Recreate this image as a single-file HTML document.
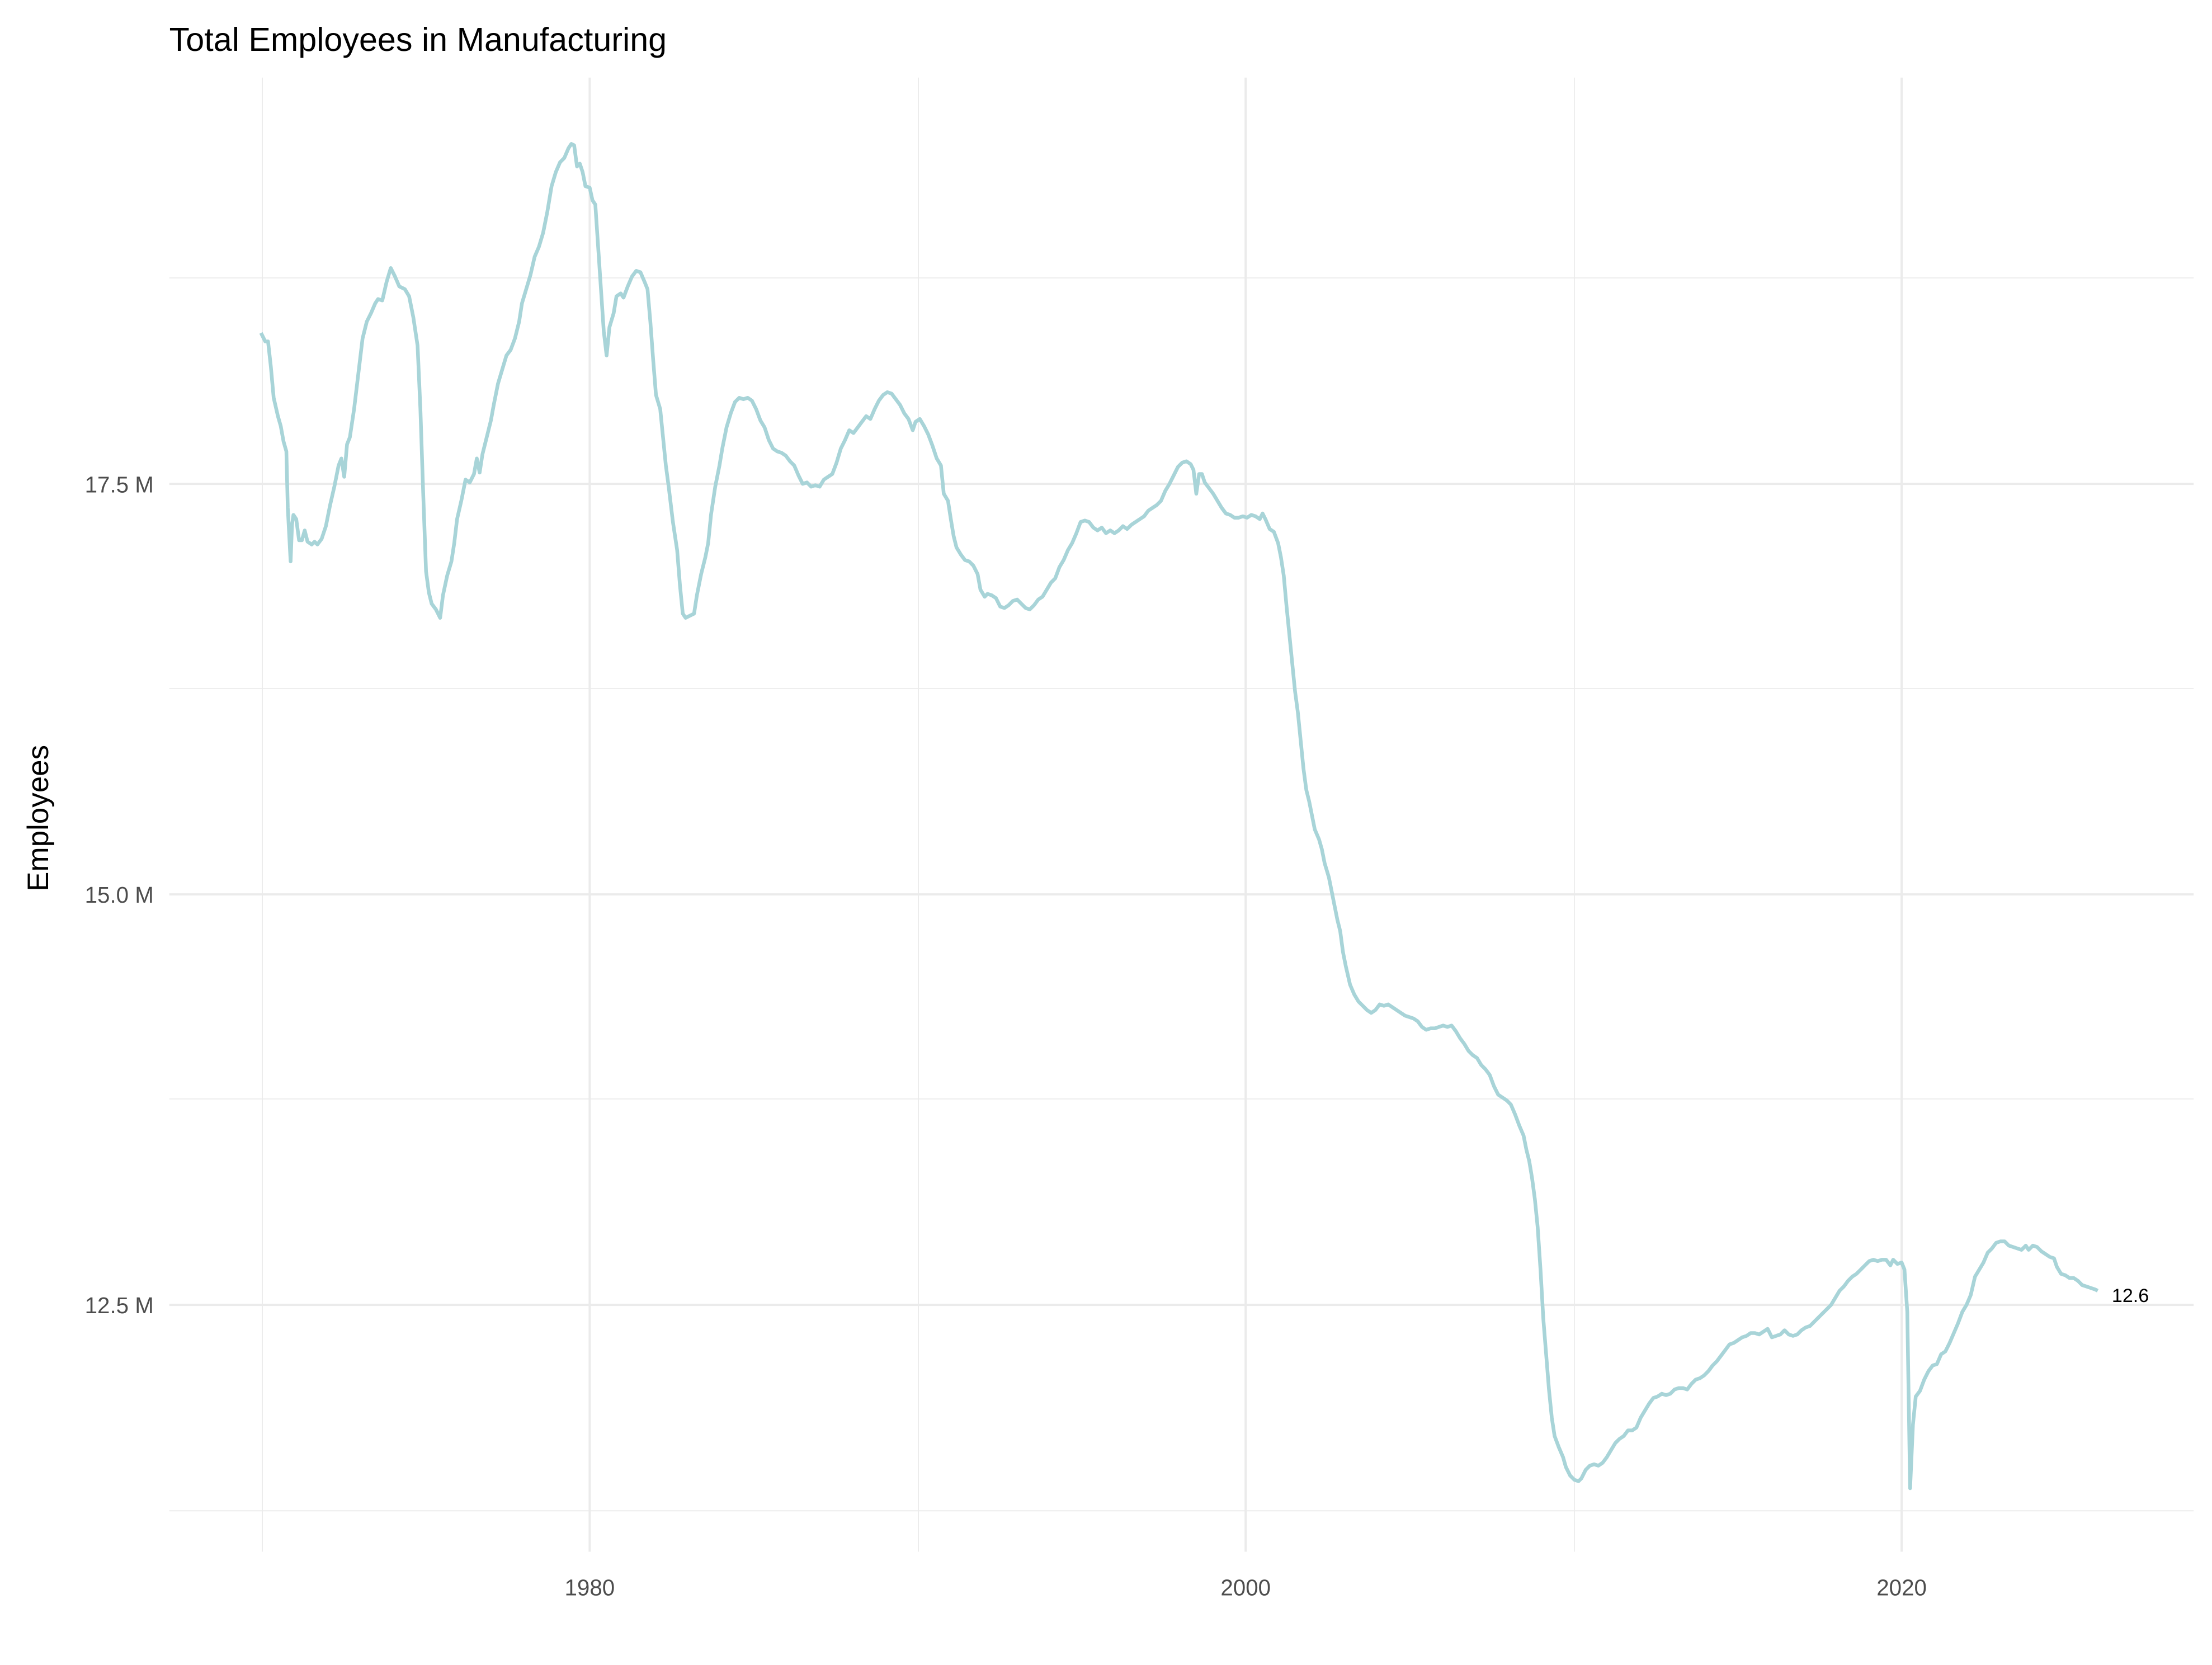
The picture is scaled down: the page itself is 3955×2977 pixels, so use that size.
<!DOCTYPE html>
<html><head><meta charset="utf-8"><style>
html,body{margin:0;padding:0;background:#fff;}
svg{display:block;}
text{font-family:"Liberation Sans",Arial,sans-serif;}
</style></head><body>
<svg width="3955" height="2977" viewBox="0 0 1568 1180.3" preserveAspectRatio="none" xmlns="http://www.w3.org/2000/svg">
<rect width="1568" height="1181" fill="#fff"/>
<g stroke="#ebebeb" stroke-width="0.7" fill="none">
<line x1="120" x2="1555" y1="197" y2="197"/>
<line x1="120" x2="1555" y1="488" y2="488"/>
<line x1="120" x2="1555" y1="779" y2="779"/>
<line x1="120" x2="1555" y1="1071" y2="1071"/>
<line x1="186" x2="186" y1="55" y2="1100"/>
<line x1="651" x2="651" y1="55" y2="1100"/>
<line x1="1116" x2="1116" y1="55" y2="1100"/>
</g>
<g stroke="#ebebeb" stroke-width="1.6" fill="none">
<line x1="120" x2="1555" y1="343" y2="343"/>
<line x1="120" x2="1555" y1="634" y2="634"/>
<line x1="120" x2="1555" y1="925" y2="925"/>
<line x1="418" x2="418" y1="55" y2="1100"/>
<line x1="883" x2="883" y1="55" y2="1100"/>
<line x1="1348" x2="1348" y1="55" y2="1100"/>
</g>
<polyline fill="none" stroke="#a8d4d8" stroke-width="2.6" stroke-linejoin="round" points="185,236 188,242 190,242 192,260 194,282 197,295 199,302 201,313 203,320 204,360 206,398 207,372 208,365 210,368 212,383 214,383 216,376 218,384 221,386 223,384 225,386 228,382 231,373 234,358 237,345 240,330 242,325 244,338 246,315 248,310 251,290 254,265 257,240 260,228 263,222 266,215 268,212 271,213 274,200 277,190 280,196 283,203 287,205 290,210 293,225 296,245 298,290 300,350 302,405 304,420 306,428 309,432 312,438 314,422 317,408 320,398 322,385 324,368 327,355 330,340 333,342 336,336 338,325 340,335 342,322 345,310 348,298 350,287 353,272 356,262 359,252 362,248 365,240 368,228 370,215 373,205 376,195 379,182 382,175 385,165 388,150 391,132 394,122 397,115 400,112 403,105 405,102 407,103 409,118 411,116 413,122 415,132 418,133 420,142 422,145 424,175 426,205 428,235 430,252 432,232 435,222 437,210 440,208 442,211 445,203 448,196 451,192 454,193 457,200 459,205 461,228 463,255 465,280 468,290 470,310 472,330 474,345 477,370 480,390 482,415 484,435 486,438 490,436 492,435 494,422 497,407 500,395 502,385 504,365 507,345 510,330 512,318 515,303 518,293 521,285 524,282 527,283 530,282 533,284 536,290 539,298 542,303 545,312 548,318 551,320 554,321 557,323 560,327 563,330 566,337 569,343 572,342 575,345 578,344 581,345 584,340 587,338 590,336 593,328 596,318 599,312 602,305 605,307 608,303 611,299 614,295 617,297 620,290 623,284 626,280 629,278 632,279 635,283 638,287 641,293 644,297 647,305 649,299 652,297 655,302 658,308 661,316 664,325 667,330 669,350 672,355 674,368 676,380 678,388 681,393 684,397 687,398 690,401 693,407 695,418 698,423 700,421 703,422 706,424 709,430 712,431 715,429 718,426 721,425 724,428 727,431 730,432 733,429 736,425 739,423 742,418 745,413 748,410 751,402 754,397 757,390 760,385 763,378 766,370 769,369 772,370 775,374 778,376 781,374 784,378 787,376 790,378 793,376 796,373 799,375 802,372 805,370 808,368 811,366 814,362 817,360 820,358 823,355 826,348 829,343 832,337 835,331 838,328 841,327 844,329 846,333 848,350 850,336 852,336 854,342 857,346 860,350 863,355 866,360 869,364 872,365 875,367 878,367 881,366 884,367 887,365 890,366 893,368 895,364 897,368 900,375 903,377 906,385 908,395 910,408 912,430 914,450 916,470 918,490 920,505 922,525 924,545 926,560 928,568 930,578 932,588 935,595 937,602 939,612 942,622 944,632 946,642 948,652 950,660 952,675 954,685 957,698 960,705 963,710 966,713 969,716 972,718 975,716 978,712 981,713 984,712 987,714 990,716 993,718 996,720 999,721 1002,722 1005,724 1008,728 1011,730 1014,729 1017,729 1020,728 1023,727 1026,728 1029,727 1032,731 1035,736 1038,740 1041,745 1044,748 1047,750 1050,755 1053,758 1056,762 1059,770 1062,776 1065,778 1068,780 1071,783 1074,790 1077,798 1080,805 1082,815 1084,823 1086,835 1088,850 1090,870 1092,900 1094,935 1096,960 1098,985 1100,1005 1102,1018 1105,1026 1108,1033 1110,1040 1113,1046 1116,1049 1119,1050 1121,1048 1124,1042 1127,1039 1130,1038 1133,1039 1136,1037 1139,1033 1142,1028 1145,1023 1148,1020 1151,1018 1154,1014 1157,1014 1160,1012 1163,1005 1166,1000 1169,995 1172,991 1175,990 1178,988 1181,989 1184,988 1187,985 1190,984 1193,984 1196,985 1199,981 1202,978 1205,977 1208,975 1211,972 1214,968 1217,965 1220,961 1223,957 1226,953 1229,952 1232,950 1235,948 1238,947 1241,945 1244,945 1247,946 1250,944 1253,942 1256,948 1259,947 1262,946 1265,943 1268,946 1271,947 1274,946 1277,943 1280,941 1283,940 1286,937 1289,934 1292,931 1295,928 1298,925 1301,920 1304,915 1307,912 1310,908 1313,905 1316,903 1319,900 1322,897 1325,894 1328,893 1331,894 1334,893 1337,893 1340,897 1342,893 1345,896 1348,895 1350,900 1352,930 1354,1055 1356,1010 1358,990 1361,986 1364,978 1367,972 1370,968 1373,967 1376,960 1379,958 1382,952 1385,945 1388,938 1391,930 1394,925 1397,918 1400,905 1403,900 1406,895 1409,888 1412,885 1415,881 1418,880 1421,880 1424,883 1427,884 1430,885 1433,886 1436,883 1438,886 1441,883 1444,884 1447,887 1450,889 1453,891 1456,892 1458,898 1461,903 1464,904 1467,906 1470,906 1473,908 1476,911 1479,912 1482,913 1485,914 1487,915"/>
<text x="1497" y="923" font-size="13.5" fill="#000">12.6</text>
<g font-size="16" fill="#4d4d4d" text-anchor="end">
<text x="109" y="349">17.5 M</text>
<text x="109" y="640">15.0 M</text>
<text x="109" y="931">12.5 M</text>
</g>
<g font-size="16" fill="#4d4d4d" text-anchor="middle">
<text x="418" y="1131">1980</text>
<text x="883" y="1131">2000</text>
<text x="1348" y="1131">2020</text>
</g>
<text x="0" y="0" font-size="21" fill="#000" text-anchor="middle" transform="translate(34,580) rotate(-90)">Employees</text>
<text x="120" y="36" font-size="23.5" fill="#000">Total Employees in Manufacturing</text>
</svg>
</body></html>
